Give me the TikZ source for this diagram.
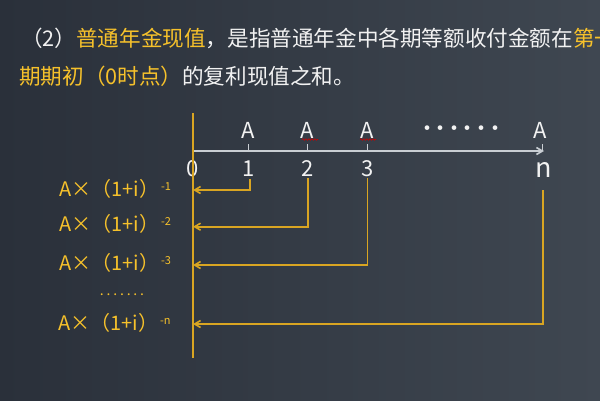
\documentclass[tikz,border=0pt]{standalone}
\usepackage{fontspec}
\newfontfamily\cjk{Noto Sans CJK SC}
\usetikzlibrary{arrows.meta,decorations.pathmorphing}
\definecolor{bgL}{HTML}{2A303A}
\definecolor{bgR}{HTML}{3F4751}
\definecolor{ttl}{HTML}{F6C12B}
\definecolor{wht}{HTML}{F2F2F2}
\definecolor{gold}{HTML}{D9A522}
\definecolor{axisc}{HTML}{C9CED3}
\newcommand\axdot{\makebox[13.6pt]{·}}
\newcommand\lfdot{\makebox[6.7pt]{.}}
\newcommand\supx[1]{\hspace{2pt}\raisebox{6pt}{\fontsize{11}{12}\selectfont #1}}
\begin{document}
\begin{tikzpicture}[x=1pt,y=-1pt,
  ttlfont/.style={font=\cjk\fontsize{21.6}{26}\selectfont, text=wht, anchor=base west, inner sep=0pt},
  axlbl/.style={font=\cjk\fontsize{22}{26}\selectfont, text=wht, anchor=base, inner sep=0pt},
  lbl/.style={font=\cjk\fontsize{20}{24}\selectfont, text=ttl, anchor=base west, inner sep=0pt},
  axisline/.style={draw=axisc, line width=1.6pt},
  goldline/.style={draw=gold, line width=1.6pt},
  tip/.style={-{Straight Barb[length=6pt,width=7pt]}},
  squig/.style={draw=red!80!black, line width=0.6pt, decorate, decoration={snake, amplitude=0.8pt, segment length=3pt}}
]
\useasboundingbox (0,0) rectangle (600,400);
\shade[left color=bgL, right color=bgR] (0,0) rectangle (600,400);

% title
\node[ttlfont] (title1) at (21,46) {（2）\textcolor{ttl}{普通年金现值}，是指普通年金中各期等额收付金额在\textcolor{ttl}{第一}};
\node[ttlfont] (title2) at (19,84) {\textcolor{ttl}{期期初（0时点）}的复利现值之和。};

% time axis
\coordinate (t0) at (193,151);
\coordinate (axend) at (544,151);
\draw[axisline, tip] (t0) -- (axend);
\foreach \n/\x in {1/248.5,2/307.5,3/367.5,n/542.5}{
  \coordinate (t\n) at (\x,151);
  \draw[axisline, line width=1.4pt] (t\n) -- ++(0,-7);
}
\node[axlbl] (A1) at (248.5,138) {A};
\node[axlbl] (A2) at (307.5,138) {A};
\node[axlbl] (A3) at (367.5,138) {A};
\node[axlbl] (An) at (540,138) {A};
\node[axlbl, anchor=center] (adots) at (461,131) {\axdot\axdot\axdot\axdot\axdot\axdot};
\draw[squig] (302,139.5) -- (318,139.5);
\draw[squig] (360,139.5) -- (376,139.5);

\node[axlbl] (d0) at (192.5,176) {0};
\node[axlbl] (d1) at (248.5,176) {1};
\node[axlbl] (d2) at (307.5,176) {2};
\node[axlbl] (d3) at (367.5,176) {3};
\node[axlbl, font=\cjk\fontsize{27}{30}\selectfont] (dn) at (544,177) {n};

% vertical present-value line
\coordinate (vtop) at (193,113);
\coordinate (vbot) at (193,358);
\draw[goldline] (vtop) -- (vbot);

% discount connectors
\coordinate (s1) at (250,179);   \coordinate (e1) at (193,190);
\coordinate (s2) at (308,178);   \coordinate (e2) at (193,226.7);
\coordinate (s3) at (367.5,178); \coordinate (e3) at (193,265);
\coordinate (sn) at (542.7,190); \coordinate (en) at (193,324);
\draw[goldline, tip] (s1) |- (e1);
\draw[goldline, tip] (s2) |- (e2);
\draw[goldline, tip] (s3) |- (e3);
\draw[goldline, tip] (sn) |- (en);

% labels
\node[lbl] (L1) at (59,196.7) {A×（1+i）\supx{-1}};
\node[lbl] (L2) at (59,231.7) {A×（1+i）\supx{-2}};
\node[lbl] (L3) at (59,270) {A×（1+i）\supx{-3}};
\node[lbl, font=\cjk\fontsize{14}{14}\selectfont, anchor=base] (ldots) at (122,295) {\lfdot\lfdot\lfdot\lfdot\lfdot\lfdot\lfdot};
\node[lbl] (Ln) at (58,330) {A×（1+i）\supx{-n}};
\end{tikzpicture}
\end{document}
